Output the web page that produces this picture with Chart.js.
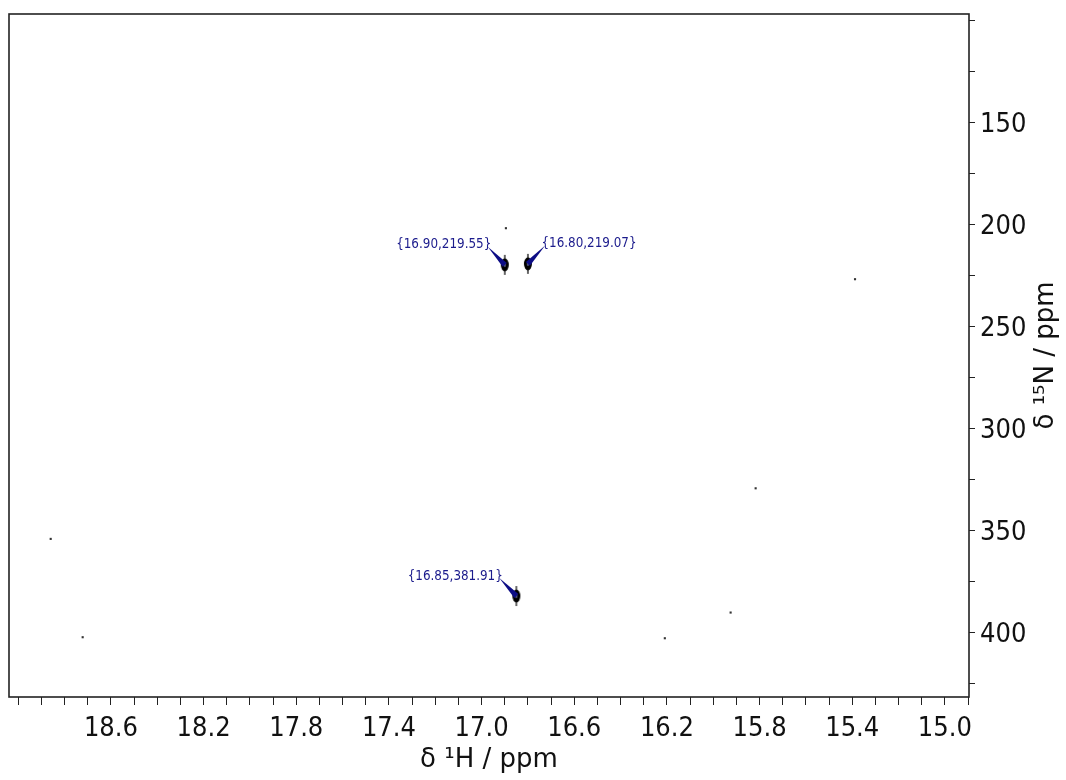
<!DOCTYPE html>
<html>
<head>
<meta charset="utf-8">
<script src="https://cdn.jsdelivr.net/npm/chart.js@4.4.1/dist/chart.umd.min.js"></script>
<style>
  html, body { margin: 0; padding: 0; background: #fff; }
  #wrap { width: 1066px; height: 780px; }
</style>
</head>
<body>
<div id="wrap"><canvas id="spec" width="1066" height="780"></canvas></div>
<script>
// picked peaks (1H ppm, 15N ppm)
const peakH = [16.90, 16.80, 16.85];
const peakN = [219.55, 219.07, 381.91];
const peakSide = ['left', 'right', 'left'];

// little noise specks left over after the contour cut
const noiseH = [16.895, 15.388, 15.817, 15.925, 16.209, 18.860, 18.722];
const noiseN = [201.6, 226.6, 329.1, 390.0, 402.6, 353.9, 402.1];

const hTickLabels = [18.6, 18.2, 17.8, 17.4, 17.0, 16.6, 16.2, 15.8, 15.4, 15.0];
const nTickLabels = [150, 200, 250, 300, 350, 400];

// spectral window
const hRange = [14.896, 19.04];
const nRange = [96.6, 431.4];

const TICK_FONT = "'DejaVu Sans Condensed', 'Liberation Sans', sans-serif";
const TITLE_FONT = "'DejaVu Sans', 'Liberation Sans', sans-serif";

function tickList(from, to, step) {
    const out = [];
    for (let v = from; v <= to + step / 2; v += step) {
        out.push({ value: Math.round(v * 1000) / 1000 });
    }
    return out;
}

function isLabelled(list, v) {
    return list.some(t => Math.abs(t - v) < 1e-6);
}

// contour blob used for the peak markers
function peakMark() {
    const c = document.createElement('canvas');
    c.width = 12;
    c.height = 22;
    const g = c.getContext('2d');
    g.strokeStyle = '#000';
    g.lineWidth = 1.2;
    g.beginPath(); g.moveTo(6, 1); g.lineTo(6, 21); g.stroke();
    g.fillStyle = '#000';
    g.beginPath(); g.ellipse(6, 11, 4, 6.5, 0, 0, Math.PI * 2); g.fill();
    g.fillStyle = '#4a4f78';
    g.beginPath(); g.ellipse(6, 11, 1.2, 2.2, 0, 0, Math.PI * 2); g.fill();
    return c;
}

const framePlugin = {
    id: 'frame',
    afterDraw(chart) {
        const { ctx, chartArea: a, scales } = chart;
        ctx.save();

        // box around the plot
        ctx.strokeStyle = '#222';
        ctx.lineWidth = 1.6;
        ctx.strokeRect(a.left, a.top, a.right - a.left, a.bottom - a.top);

        // peak callouts: wedge + coordinate text
        ctx.font = '13.3px ' + TICK_FONT;
        ctx.textBaseline = 'middle';
        for (let i = 0; i < peakH.length; i++) {
            const px = scales.x.getPixelForValue(peakH[i]);
            const py = scales.y.getPixelForValue(peakN[i]);
            const dir = peakSide[i] === 'left' ? -1 : 1;
            const ax = px + dir * 17;
            const ay = py - 18;

            const dx = px - ax, dy = py - ay;
            const len = Math.hypot(dx, dy);
            const nx = -dy / len * 2.8, ny = dx / len * 2.8;
            ctx.fillStyle = '#0d0d85';
            ctx.beginPath();
            ctx.moveTo(ax, ay);
            ctx.lineTo(px + nx, py + ny);
            ctx.lineTo(px - nx, py - ny);
            ctx.closePath();
            ctx.fill();

            const txt = '{' + peakH[i].toFixed(2) + ',' + peakN[i].toFixed(2) + '}';
            ctx.fillStyle = '#1b1b8c';
            ctx.textAlign = dir < 0 ? 'right' : 'left';
            ctx.fillText(txt, px + dir * 13.5, py - 20);
        }

        // 15N axis title, reading bottom to top
        ctx.fillStyle = '#111';
        ctx.font = '26px ' + TITLE_FONT;
        ctx.textAlign = 'center';
        ctx.textBaseline = 'middle';
        ctx.translate(a.right + 77, (a.top + a.bottom) / 2);
        ctx.rotate(-Math.PI / 2);
        ctx.fillText('δ ¹⁵N / ppm', 0, 0);
        ctx.restore();
    }
};

new Chart(document.getElementById('spec'), {
    type: 'scatter',
    data: {
        datasets: [
            {
                label: 'peaks',
                data: peakH.map((h, i) => ({ x: h, y: peakN[i] })),
                pointStyle: peakMark(),
                radius: 6
            },
            {
                label: 'noise',
                data: noiseH.map((h, i) => ({ x: h, y: noiseN[i] })),
                pointStyle: 'rect',
                radius: 1.5,
                backgroundColor: '#333',
                borderWidth: 0
            }
        ]
    },
    options: {
        responsive: false,
        animation: false,
        events: [],
        layout: { padding: { left: 9, top: 14, right: 0, bottom: 0 } },
        plugins: {
            legend: { display: false },
            tooltip: { enabled: false }
        },
        scales: {
            x: {
                type: 'linear',
                position: 'bottom',
                reverse: true,
                min: hRange[0],
                max: hRange[1],
                afterBuildTicks: (s) => { s.ticks = tickList(14.9, 19.0, 0.1); },
                afterFit: (s) => { s.height = 83; s.paddingLeft = 0; s.paddingRight = 0; },
                border: { display: false },
                grid: { drawOnChartArea: false, drawTicks: true, tickLength: 8, tickColor: '#222', tickWidth: 1 },
                ticks: {
                    autoSkip: false,
                    maxRotation: 0,
                    minRotation: 0,
                    padding: 8,
                    color: '#111',
                    font: { family: TICK_FONT, size: 27 },
                    callback: (v) => isLabelled(hTickLabels, v) ? v.toFixed(1) : ''
                },
                title: {
                    display: true,
                    text: 'δ ¹H / ppm',
                    color: '#111',
                    font: { family: TITLE_FONT, size: 26 },
                    padding: { top: 0, bottom: 4 }
                }
            },
            y: {
                type: 'linear',
                position: 'right',
                reverse: true,
                min: nRange[0],
                max: nRange[1],
                afterBuildTicks: (s) => { s.ticks = tickList(100, 425, 25); },
                afterFit: (s) => { s.width = 97; s.paddingTop = 0; s.paddingBottom = 0; },
                border: { display: false },
                grid: { drawOnChartArea: false, drawTicks: true, tickLength: 6, tickColor: '#222', tickWidth: 1 },
                ticks: {
                    autoSkip: false,
                    padding: 5,
                    labelOffset: 2,
                    color: '#111',
                    font: { family: TICK_FONT, size: 27 },
                    callback: (v) => isLabelled(nTickLabels, v) ? String(v) : ''
                }
            }
        }
    },
    plugins: [framePlugin]
});
</script>
</body>
</html>
